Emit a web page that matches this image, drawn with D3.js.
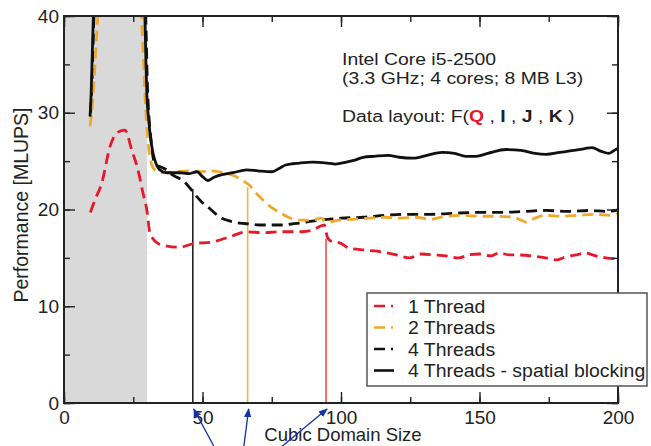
<!DOCTYPE html>
<html>
<head>
<meta charset="utf-8">
<script src="https://cdn.jsdelivr.net/npm/d3@7"></script>
<style>
  body { margin: 0; background: #fff; }
  svg text { font-family: "Liberation Sans", Arial, Helvetica, sans-serif; fill: #222; }
</style>
</head>
<body>
<div id="chart"></div>
<script>
// Performance [MLUPS] vs cubic domain size, Intel Core i5-2500

const oneThread = [[9.5,19.7],[11.2,21.0],[13.7,22.8],[16.6,26.5],[19.5,28.0],[22,28.2],[24.5,26.1],[26.7,24.1],[28.5,21.7],[30,19.8],[31,17.6],[33.9,16.5],[36,16.3],[41.8,16.1],[47,16.5],[52.6,16.6],[60,17.2],[66,17.7],[72,17.6],[78,17.7],[86,17.7],[90,17.9],[92,18.2],[94,18.4],[95,17.2],[96,16.8],[100,16.5],[103,16.0],[109,15.8],[115,15.6],[120,15.3],[124.6,15.0],[129,15.4],[134,15.3],[138,15.2],[142.6,15.0],[146,15.3],[150,15.4],[154,15.2],[157,15.5],[161,15.3],[164,15.3],[169,15.2],[174,15.0],[178,14.8],[181,15.1],[185,15.3],[188,15.5],[192,15.2],[195.6,15.0],[200,14.9]];

const twoThreads = [[9.4,28.6],[10.3,31],[11,34],[11.6,37],[12.2,40],[12.8,44],[27.6,44],[28,40],[28.6,36],[29.2,32],[29.8,29],[30.5,26.5],[31.5,24.8],[32.8,24.1],[35.7,23.8],[40,23.9],[45,24.0],[49,23.9],[53,24.0],[56,23.9],[59,23.7],[62,23.4],[65,22.9],[67,22.5],[69,21.8],[71.7,21.0],[75,20.2],[77.8,19.7],[81,19.2],[84,18.9],[89.7,18.9],[92.9,19.1],[94.7,18.7],[99.4,18.9],[105,19.0],[110,19.1],[116,19.2],[122,19.1],[127,19.2],[132,19.0],[138,19.3],[144,19.4],[150,19.3],[156,19.3],[162,19.2],[165,18.9],[167,18.7],[170,19.1],[174,19.4],[180,19.3],[186,19.4],[192,19.5],[197,19.4],[200,19.6]];

const fourThreads = [[9.6,30],[10.2,34],[10.8,40],[11.3,44],[29,44],[29.5,40],[30.1,33],[30.8,29],[31.5,27],[32.2,25.3],[33,24.6],[35,24.4],[37,24.1],[39,23.6],[41,23.3],[43,23.0],[45.5,22.2],[48,21.3],[50,20.7],[52.6,20.1],[55,19.5],[57,19.1],[60,18.8],[63.4,18.6],[67,18.5],[70.6,18.4],[75,18.4],[79,18.4],[82,18.5],[85,18.6],[89.7,18.8],[95.8,19.0],[100,19.1],[108,19.2],[116,19.4],[124,19.5],[132,19.5],[140,19.6],[150,19.7],[158,19.7],[166,19.8],[174,19.9],[182,19.8],[190,19.9],[196,19.8],[200,19.95]];

const fourThreadsBlocking = [[9.4,29.6],[9.8,32],[10.2,36],[10.6,40],[11,44],[28.9,44],[29.2,40],[29.6,35],[29.9,32],[30.5,29.5],[31,28],[32,26],[32.8,25.1],[34.6,24.1],[37,23.8],[39,23.8],[41.8,23.8],[45,23.7],[48,23.9],[50,23.4],[51.9,23.0],[54,23.3],[57,23.6],[61,23.8],[66,24.1],[70,24.0],[75,23.9],[78,24.3],[80,24.6],[85,24.8],[89.7,24.9],[95,24.8],[98,24.7],[102,24.9],[105,25.1],[108,25.4],[112,25.5],[117,25.6],[121,25.4],[126,25.3],[131,25.6],[136.5,25.9],[141,25.8],[145,25.5],[148.7,25.5],[153,25.8],[159.6,26.2],[165,26.1],[170,25.8],[174,25.7],[179,25.9],[184,26.1],[188,26.3],[190.6,26.4],[194,26.0],[196.7,25.8],[199.2,26.2],[200,26.3]];

const seriesNames = ["1 Thread", "2 Threads", "4 Threads", "4 Threads - spatial blocking"];
const seriesColors = ["#e8182a", "#f0a82c", "#111111", "#111111"];
const seriesDashed = [true, true, true, false];

// cache-limit markers: x position and height of each vertical line
const markerX = [46.5, 66.3, 94.6];
const markerTop = [22.1, 22.3, 17.0];
const markerColors = ["#222222", "#f2b24a", "#e45050"];

const shadeRange = [0, 30];
const xTicks = [0, 50, 100, 150, 200];
const yTicks = [0, 10, 20, 30, 40];

const width = 651, height = 446;
const margin = { top: 16, right: 33, bottom: 43, left: 64 };
const innerW = width - margin.left - margin.right;
const innerH = height - margin.top - margin.bottom;

const svg = d3.select("#chart").append("svg")
  .attr("width", width).attr("height", height);

const x = d3.scaleLinear().domain([0, 200]).range([margin.left, margin.left + innerW]);
const y = d3.scaleLinear().domain([0, 40]).range([margin.top + innerH, margin.top]);

svg.append("defs").append("clipPath").attr("id", "plotClip")
  .append("rect")
  .attr("x", margin.left).attr("y", margin.top)
  .attr("width", innerW).attr("height", innerH);

svg.select("defs").append("marker")
  .attr("id", "arrow").attr("viewBox", "0 0 10 10")
  .attr("refX", 9).attr("refY", 5)
  .attr("markerWidth", 7).attr("markerHeight", 7)
  .attr("orient", "auto")
  .append("path").attr("d", "M0,1 L10,5 L0,9 z").attr("fill", "#1233a8");

// grey band (small domains)
svg.append("rect")
  .attr("x", x(shadeRange[0])).attr("y", margin.top)
  .attr("width", x(shadeRange[1]) - x(shadeRange[0]))
  .attr("height", innerH)
  .attr("fill", "#d9d9d9");

// vertical marker lines
svg.selectAll("line.marker")
  .data(markerX)
  .join("line")
  .attr("class", "marker")
  .attr("x1", d => x(d)).attr("x2", d => x(d))
  .attr("y1", y(0)).attr("y2", (d, i) => y(markerTop[i]))
  .attr("stroke", (d, i) => markerColors[i])
  .attr("stroke-width", 1.6);

// series
const line = d3.line().x(d => x(d[0])).y(d => y(d[1])).curve(d3.curveMonotoneX);
const allSeries = [oneThread, fourThreads, twoThreads, fourThreadsBlocking];
const order = [0, 2, 1, 3];
const plot = svg.append("g").attr("clip-path", "url(#plotClip)");
allSeries.forEach((s, k) => {
  const i = order[k];
  plot.append("path")
    .datum(s)
    .attr("fill", "none")
    .attr("stroke", seriesColors[i])
    .attr("stroke-width", 2.8)
    .attr("stroke-dasharray", seriesDashed[i] ? "11,6" : null)
    .attr("stroke-linejoin", "round")
    .attr("d", line);
});

// axes with inward ticks on all four sides
const axisColor = "#222";
function styleAxis(g) {
  g.select(".domain").remove();
  g.selectAll("line").attr("stroke", axisColor).attr("stroke-width", 1.4);
  g.selectAll("text").style("font-size", "19px").attr("fill", "#222");
}
const xMinor = d3.range(0, 201, 25);
const yMinor = d3.range(0, 41, 5);

svg.append("g").attr("transform", `translate(0,${y(0)})`)
  .call(d3.axisBottom(x).tickValues(xMinor).tickSize(-6).tickFormat(""))
  .call(styleAxis);
svg.append("g").attr("transform", `translate(0,${y(0)})`)
  .call(d3.axisBottom(x).tickValues(xTicks).tickSize(-11).tickPadding(8).tickFormat(d3.format("d")))
  .call(styleAxis);
svg.append("g").attr("transform", `translate(0,${y(40)})`)
  .call(d3.axisTop(x).tickValues(xMinor).tickSize(-6).tickFormat(""))
  .call(styleAxis);
svg.append("g").attr("transform", `translate(0,${y(40)})`)
  .call(d3.axisTop(x).tickValues(xTicks).tickSize(-11).tickFormat(""))
  .call(styleAxis);
svg.append("g").attr("transform", `translate(${x(0)},0)`)
  .call(d3.axisLeft(y).tickValues(yMinor).tickSize(-6).tickFormat(""))
  .call(styleAxis);
svg.append("g").attr("transform", `translate(${x(0)},0)`)
  .call(d3.axisLeft(y).tickValues(yTicks).tickSize(-11).tickPadding(5).tickFormat(d3.format("d")))
  .call(styleAxis);
svg.append("g").attr("transform", `translate(${x(200)},0)`)
  .call(d3.axisRight(y).tickValues(yMinor).tickSize(-6).tickFormat(""))
  .call(styleAxis);
svg.append("g").attr("transform", `translate(${x(200)},0)`)
  .call(d3.axisRight(y).tickValues(yTicks).tickSize(-11).tickFormat(""))
  .call(styleAxis);

// frame
svg.append("rect")
  .attr("x", x(0)).attr("y", y(40))
  .attr("width", x(200) - x(0)).attr("height", y(0) - y(40))
  .attr("fill", "none").attr("stroke", axisColor).attr("stroke-width", 2);

// axis titles
svg.append("text")
  .attr("x", margin.left + innerW / 2 + 2).attr("y", height - 5)
  .attr("text-anchor", "middle")
  .style("font-size", "18.5px")
  .text("Cubic Domain Size");

svg.append("text")
  .attr("transform", "rotate(-90)")
  .attr("x", -205).attr("y", 28)
  .attr("text-anchor", "middle")
  .style("font-size", "19.5px")
  .text("Performance [MLUPS]");

// processor annotation (glyphs a little wider than Liberation Sans)
const note = svg.append("g").style("font-size", "17px");
const stretch = 1.14;
note.append("text").attr("transform", `translate(342,65) scale(${stretch},1)`).text("Intel Core i5-2500");
note.append("text").attr("transform", `translate(342,84) scale(${stretch},1)`).text("(3.3 GHz; 4 cores; 8 MB L3)");
const layout = note.append("text").attr("transform", `translate(342,122) scale(${stretch},1)`);
layout.append("tspan").text("Data layout: F(");
layout.append("tspan").text("Q").style("fill", "#e8182a").style("font-weight", "bold");
layout.append("tspan").text(" , ");
layout.append("tspan").text("I").style("font-weight", "bold");
layout.append("tspan").text(" , ");
layout.append("tspan").text("J").style("font-weight", "bold");
layout.append("tspan").text(" , ");
layout.append("tspan").text("K").style("font-weight", "bold");
layout.append("tspan").text(" )");

// legend
const legend = svg.append("g").attr("transform", "translate(367,293)");
legend.append("rect")
  .attr("width", 280).attr("height", 93)
  .attr("fill", "#fff").attr("stroke", "#555").attr("stroke-width", 1.5);
seriesNames.forEach((name, i) => {
  const cy = 13 + i * 21.5;
  legend.append("line")
    .attr("x1", 7).attr("x2", 27).attr("y1", cy).attr("y2", cy)
    .attr("stroke", seriesColors[i]).attr("stroke-width", 2.6)
    .attr("stroke-dasharray", seriesDashed[i] ? "11,6,2,20" : null);
  legend.append("text")
    .attr("transform", `translate(41,${cy + 6.5}) scale(1.08,1)`)
    .style("font-size", "18px")
    .text(name);
});

// arrows pointing at the marker lines from below
const arrowTailDx = [22, -4, -46];
svg.selectAll("line.arrow")
  .data(markerX)
  .join("line")
  .attr("class", "arrow")
  .attr("x1", (d, i) => x(d) + arrowTailDx[i]).attr("y1", height + 2)
  .attr("x2", d => x(d) + 1).attr("y2", y(0) + 6)
  .attr("stroke", "#1233a8").attr("stroke-width", 1.3)
  .attr("marker-end", "url(#arrow)");
</script>
</body>
</html>
